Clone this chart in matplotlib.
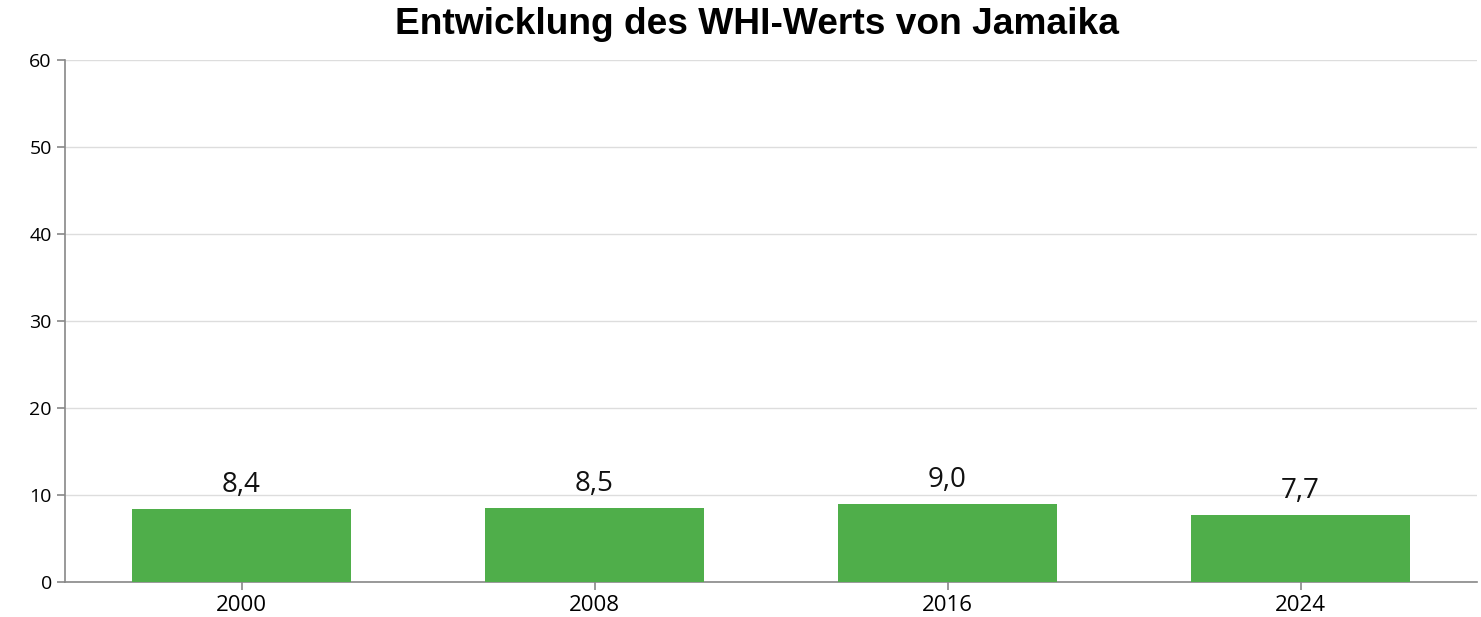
import numpy as np
import matplotlib.pyplot as plt

years = ['2000', '2008', '2016', '2024']
whi = [8.4, 8.5, 9.0, 7.7]
labels = ['8,4', '8,5', '9,0', '7,7']
yticks = [0, 10, 20, 30, 40, 50, 60]

fig = plt.figure(figsize=(14.81, 6.17), dpi=100)
ax = fig.add_axes([65/1481, 1-582/617, (1477-65)/1481, (582-60)/617])

x = np.arange(len(years))
bars = ax.bar(x, whi, width=0.62, color='#4fae4a', zorder=3)
for xi, v, lab in zip(x, whi, labels):
    ax.annotate(lab, (xi, v), xytext=(0, 7), textcoords='offset points',
                ha='center', va='bottom', fontsize=20, family='Open Sans', color='#111')

ax.set_xlim(-0.5, len(years) - 0.5)
ax.set_ylim(0, 60)
ax.set_yticks(yticks)
ax.set_xticks(x)
ax.set_xticklabels(years)
ax.grid(axis='y', color='#dddddd', linewidth=1, zorder=0)
for s in ['top', 'right']:
    ax.spines[s].set_visible(False)
for s in ['left', 'bottom']:
    ax.spines[s].set_color('#888888')
    ax.spines[s].set_linewidth(1.2)
ax.tick_params(axis='both', colors='#888888', length=6, width=1.2)
for t in ax.get_yticklabels():
    t.set_color('#000'); t.set_fontsize(14); t.set_family('Open Sans')
for t in ax.get_xticklabels():
    t.set_color('#000'); t.set_fontsize(16); t.set_family('Open Sans')

fig.text(757/1481, 1-24/617, 'Entwicklung des WHI-Werts von Jamaika', ha='center', va='center',
         fontsize=26.7, fontweight='bold', family='Liberation Sans')

fig.savefig('out.png', dpi=100)
